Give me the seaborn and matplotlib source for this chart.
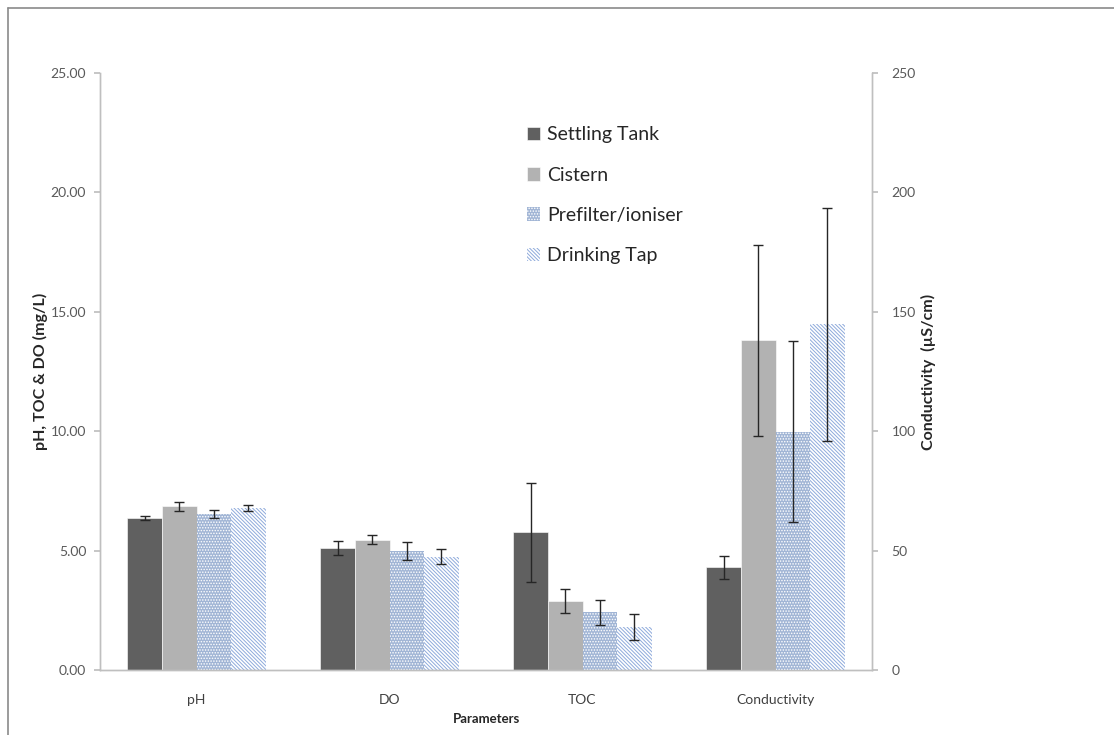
import pandas as pd
import matplotlib.pyplot as plt
import seaborn as sns
from matplotlib.lines import Line2D

# values
params = ['pH', 'DO', 'TOC', 'Conductivity']
sources = ['Settling Tank', 'Cistern', 'Prefilter/ioniser', 'Drinking Tap']
settling_mean = [6.37, 5.11, 5.76, 43.0]
settling_sd = [0.08, 0.28, 2.06, 4.8]
cistern_mean = [6.85, 5.45, 2.88, 138.0]
cistern_sd = [0.19, 0.19, 0.51, 40.0]
prefilter_mean = [6.54, 4.99, 2.41, 99.8]
prefilter_sd = [0.18, 0.38, 0.54, 38.0]
tap_mean = [6.77, 4.74, 1.80, 144.8]
tap_sd = [0.13, 0.31, 0.56, 48.8]
left_ticks = [0, 5, 10, 15, 20, 25]
right_ticks = [0, 50, 100, 150, 200, 250]

sns.set_theme(style='white')
plt.rcParams['font.family'] = ['Lato', 'DejaVu Sans']
plt.rcParams['hatch.linewidth'] = 0.7

rows = []
for src, means, sds in zip(sources, [settling_mean, cistern_mean, prefilter_mean, tap_mean],
                           [settling_sd, cistern_sd, prefilter_sd, tap_sd]):
    for p, m, s in zip(params, means, sds):
        rows.append({'param': p, 'source': src, 'value': m, 'sd': s})
df = pd.DataFrame(rows)
left_df = df[df['param'] != 'Conductivity']
right_df = df[df['param'] == 'Conductivity']

face = {'Settling Tank': '#606060', 'Cistern': '#b2b2b2',
        'Prefilter/ioniser': '#98b3de', 'Drinking Tap': '#ffffff'}
edge = {'Settling Tank': '#ffffff', 'Cistern': '#ffffff',
        'Prefilter/ioniser': '#ffffff', 'Drinking Tap': '#8eaadb'}
hatch = {'Settling Tank': None, 'Cistern': None,
         'Prefilter/ioniser': '.' * 6, 'Drinking Tap': '\\' * 9}

fig = plt.figure(figsize=(11.14, 7.35), dpi=100)
ax = fig.add_axes([100 / 1114, 1 - 670 / 735, 772 / 1114, 597 / 735])
ax2 = ax.twinx()

sns.barplot(data=left_df, x='param', y='value', hue='source', order=params,
            hue_order=sources, palette=face, width=0.716, errorbar=None,
            legend=False, ax=ax)
sns.barplot(data=right_df, x='param', y='value', hue='source', order=params,
            hue_order=sources, palette=face, width=0.716, errorbar=None,
            legend=False, ax=ax2)

for axis, sub in [(ax, left_df), (ax2, right_df)]:
    for src, cont in zip(sources, axis.containers):
        for bar in cont.patches:
            bar.set_edgecolor(edge[src])
            bar.set_linewidth(0.4 if hatch[src] is None else 0)
            if hatch[src]:
                bar.set_hatch(hatch[src])
            xc = bar.get_x() + bar.get_width() / 2
            p = params[int(round(xc))]
            sd = sub[(sub['param'] == p) & (sub['source'] == src)]['sd'].iloc[0]
            axis.errorbar(xc, bar.get_height(), yerr=sd, fmt='none',
                          ecolor='#262626', elinewidth=1, capsize=3.5, capthick=1)

ax.set_ylim(0, 25)
ax2.set_ylim(0, 250)
ax.set_xlim(-0.5, 3.5)
ax.set_yticks(left_ticks)
ax.set_yticklabels([f'{t:.2f}' for t in left_ticks])
ax2.set_yticks(right_ticks)
ax2.set_yticklabels([str(t) for t in right_ticks])
ax.set_xticks(range(len(params)))
ax.set_xticklabels(params)
ax.set_xticks([-0.5, 0.5, 1.5, 2.5, 3.5], minor=True)

grey = '#bfbfbf'
for a in (ax, ax2):
    for side in ['left', 'right', 'bottom', 'top']:
        a.spines[side].set_color(grey)
        a.spines[side].set_linewidth(1)
    a.spines['top'].set_visible(False)
ax.tick_params(axis='x', which='major', length=0, pad=17, labelsize=10, labelcolor='#404040')
ax.tick_params(axis='x', which='minor', length=4, color=grey, direction='out')
ax.tick_params(axis='y', length=4, color=grey, direction='out', pad=6,
               labelsize=10, labelcolor='#595959', left=True)
ax2.tick_params(axis='y', length=4, color=grey, direction='out', pad=10,
                labelsize=10, labelcolor='#595959', right=True)

ax.set_xlabel('Parameters', fontsize=9.5, fontweight='bold', labelpad=5)
ax.set_ylabel('pH, TOC & DO (mg/L)', fontsize=11.5, fontweight='bold', labelpad=2)
ax2.set_ylabel('Conductivity  (µS/cm)', fontsize=11.5, fontweight='bold', labelpad=4)

ax.legend(ax.containers, sources, loc='upper left', bbox_to_anchor=(0.53, 0.94),
          frameon=False, fontsize=14, handlelength=0.7, handleheight=0.7,
          handletextpad=0.35, labelspacing=1.2)

# outer chart border (left and top edges visible)
fig.add_artist(Line2D([8 / 1114, 8 / 1114], [0, 1 - 8 / 735], color='#8a8a8a', lw=1.2))
fig.add_artist(Line2D([8 / 1114, 1], [1 - 8 / 735, 1 - 8 / 735], color='#8a8a8a', lw=1.2))

fig.savefig('out.png', dpi=100)
